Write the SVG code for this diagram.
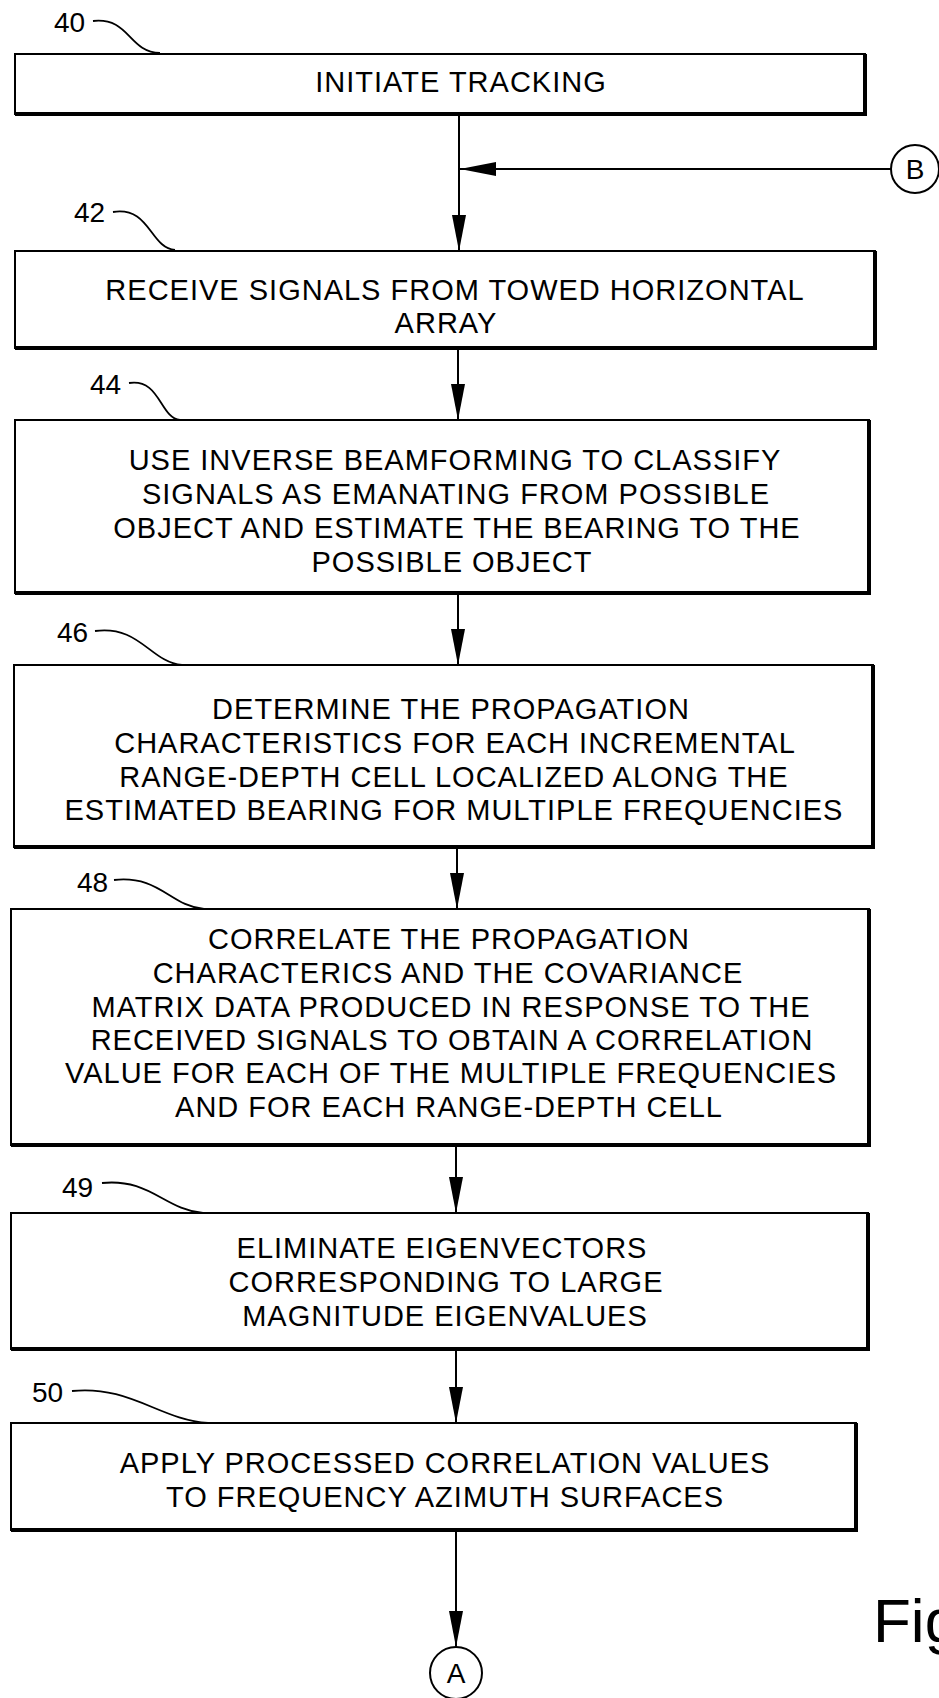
<svg xmlns="http://www.w3.org/2000/svg" width="939" height="1698" viewBox="0 0 939 1698">
<defs>
<style>
.box{fill:#fff;stroke:#000;stroke-width:2}
.shadow{fill:none;stroke:#000;stroke-width:4}
.t{font-family:"Liberation Sans",Arial,sans-serif;font-size:29px;letter-spacing:1px;text-anchor:middle;fill:#000}
.lbl{font-family:"Liberation Sans",Arial,sans-serif;font-size:28px;fill:#000}
.lead{fill:none;stroke:#000;stroke-width:1.8}
.conn{fill:none;stroke:#000;stroke-width:2}
</style>
<marker id="ah" markerUnits="userSpaceOnUse" markerWidth="36" markerHeight="14" viewBox="0 0 36 14" refX="36" refY="7" orient="auto">
<path d="M0,0 L36,7 L0,14 Z" fill="#000"/>
</marker>
</defs>
<rect width="939" height="1698" fill="#fff"/>

<g id="n40">
<rect class="box" x="15" y="54" width="850" height="60"/>
<polyline class="shadow" points="865,54 865,114 15,114"/>
<text class="t" x="461" y="92">INITIATE TRACKING</text>
<text class="lbl" x="54" y="32">40</text>
<path class="lead" d="M93,21 C130,17 128,52 160,53"/>
</g>

<g id="n42">
<rect class="box" x="15" y="251" width="860" height="97"/>
<polyline class="shadow" points="875,251 875,348 15,348"/>
<text class="t" x="455" y="300">RECEIVE SIGNALS FROM TOWED HORIZONTAL</text>
<text class="t" x="446" y="333">ARRAY</text>
<text class="lbl" x="74" y="222">42</text>
<path class="lead" d="M113,212 C150,206 150,248 175,250"/>
</g>

<g id="n44">
<rect class="box" x="15" y="420" width="854" height="173"/>
<polyline class="shadow" points="869,420 869,593 15,593"/>
<text class="t" x="455" y="470">USE INVERSE BEAMFORMING TO CLASSIFY</text>
<text class="t" x="456" y="504">SIGNALS AS EMANATING FROM POSSIBLE</text>
<text class="t" x="457" y="538">OBJECT AND ESTIMATE THE BEARING TO THE</text>
<text class="t" x="452" y="572">POSSIBLE OBJECT</text>
<text class="lbl" x="90" y="394">44</text>
<path class="lead" d="M129,383 C160,378 160,418 180,420"/>
</g>

<g id="n46">
<rect class="box" x="14" y="665" width="859" height="182"/>
<polyline class="shadow" points="873,665 873,847 14,847"/>
<text class="t" x="451" y="719">DETERMINE THE PROPAGATION</text>
<text class="t" x="455" y="753">CHARACTERISTICS FOR EACH INCREMENTAL</text>
<text class="t" x="454" y="787">RANGE-DEPTH CELL LOCALIZED ALONG THE</text>
<text class="t" x="454" y="820">ESTIMATED BEARING FOR MULTIPLE FREQUENCIES</text>
<text class="lbl" x="57" y="642">46</text>
<path class="lead" d="M95,631 C140,625 150,662 182,665"/>
</g>

<g id="n48">
<rect class="box" x="11" y="909" width="858" height="236"/>
<polyline class="shadow" points="869,909 869,1145 11,1145"/>
<text class="t" x="449" y="949">CORRELATE THE PROPAGATION</text>
<text class="t" x="448" y="983">CHARACTERICS AND THE COVARIANCE</text>
<text class="t" x="451" y="1017">MATRIX DATA PRODUCED IN RESPONSE TO THE</text>
<text class="t" x="452" y="1050">RECEIVED SIGNALS TO OBTAIN A CORRELATION</text>
<text class="t" x="451" y="1083">VALUE FOR EACH OF THE MULTIPLE FREQUENCIES</text>
<text class="t" x="449" y="1117">AND FOR EACH RANGE-DEPTH CELL</text>
<text class="lbl" x="77" y="892">48</text>
<path class="lead" d="M114,880 C160,875 170,906 204,909"/>
</g>

<g id="n49">
<rect class="box" x="11" y="1213" width="857" height="136"/>
<polyline class="shadow" points="868,1213 868,1349 11,1349"/>
<text class="t" x="442" y="1258">ELIMINATE EIGENVECTORS</text>
<text class="t" x="446" y="1292">CORRESPONDING TO LARGE</text>
<text class="t" x="445" y="1326">MAGNITUDE EIGENVALUES</text>
<text class="lbl" x="62" y="1197">49</text>
<path class="lead" d="M102,1183 C150,1178 165,1210 203,1213"/>
</g>

<g id="n50">
<rect class="box" x="11" y="1423" width="845" height="107"/>
<polyline class="shadow" points="856,1423 856,1530 11,1530"/>
<text class="t" x="445" y="1473">APPLY PROCESSED CORRELATION VALUES</text>
<text class="t" x="445" y="1507">TO FREQUENCY AZIMUTH SURFACES</text>
<text class="lbl" x="32" y="1402">50</text>
<path class="lead" d="M72,1391 C130,1385 160,1420 208,1423"/>
</g>

<g id="nB">
<circle cx="915" cy="169" r="24" fill="#fff" stroke="#000" stroke-width="2"/>
<text class="lbl" x="915" y="179" text-anchor="middle">B</text>
</g>

<g id="nA">
<circle cx="456" cy="1673" r="26" fill="#fff" stroke="#000" stroke-width="2"/>
<text class="lbl" x="456" y="1683" text-anchor="middle">A</text>
</g>

<g id="fig">
<text x="873" y="1642" font-family="'Liberation Sans',Arial,sans-serif" font-size="62">Fig</text>
</g>

<g id="connectors">
<line class="conn" x1="459" y1="114" x2="459" y2="251" marker-end="url(#ah)"/>
<line class="conn" x1="891" y1="169" x2="460" y2="169" marker-end="url(#ah)"/>
<line class="conn" x1="458" y1="348" x2="458" y2="420" marker-end="url(#ah)"/>
<line class="conn" x1="458" y1="593" x2="458" y2="665" marker-end="url(#ah)"/>
<line class="conn" x1="457" y1="847" x2="457" y2="909" marker-end="url(#ah)"/>
<line class="conn" x1="456" y1="1145" x2="456" y2="1213" marker-end="url(#ah)"/>
<line class="conn" x1="456" y1="1349" x2="456" y2="1423" marker-end="url(#ah)"/>
<line class="conn" x1="456" y1="1530" x2="456" y2="1647" marker-end="url(#ah)"/>
</g>
</svg>
